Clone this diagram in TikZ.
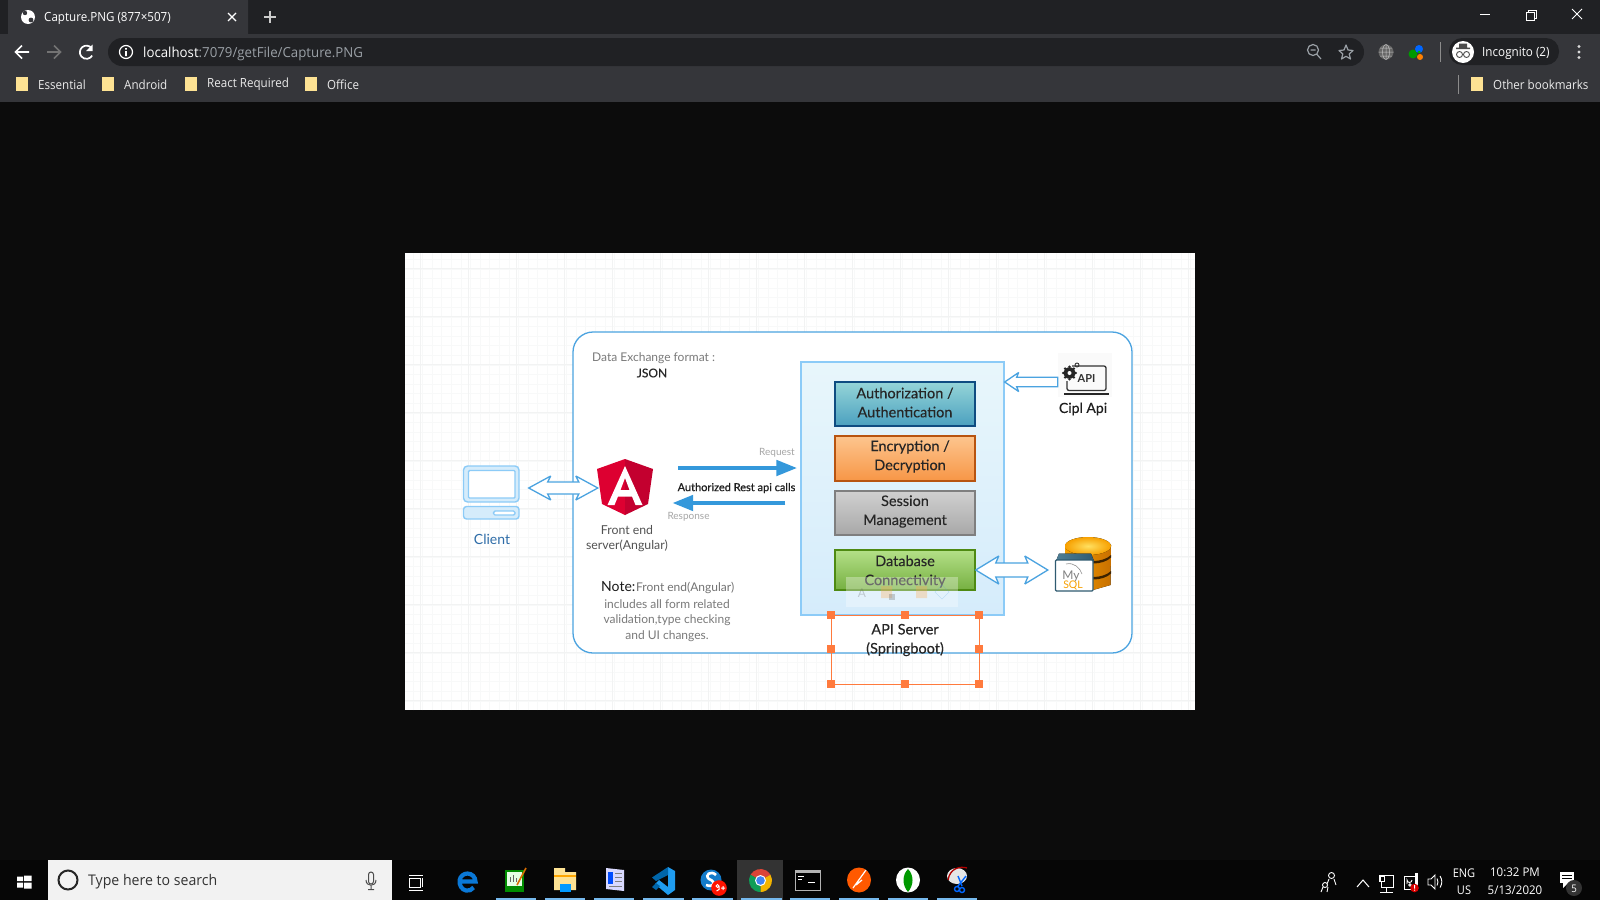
\documentclass[tikz,border=0pt]{standalone}
\usepackage{fontspec}
\setmainfont{Lato}
\newfontfamily\uifont[FakeStretch=0.92]{Open Sans}
\newfontfamily\uifontw[FakeStretch=0.96]{Open Sans}
\newfontfamily\boxfont[FakeBold=0.2]{Lato}
\usetikzlibrary{arrows.meta,calc}
\definecolor{pagebg}{HTML}{0C0C0C}
\definecolor{tabstrip}{HTML}{202124}
\definecolor{toolbar}{HTML}{35363A}
\definecolor{folder}{HTML}{FDE293}
\definecolor{uigray}{HTML}{9AA0A6}
\definecolor{frameblue}{HTML}{4BA3E0}
\definecolor{arrowblue}{HTML}{3498DB}
\definecolor{lightblue}{HTML}{8CCBF7}
\definecolor{handle}{HTML}{FF7A3D}
\definecolor{tasklin}{HTML}{76B9ED}
\definecolor{gridc}{HTML}{F8F9F9}
\definecolor{gridm}{HTML}{F2F3F3}
\tikzset{
  x=1pt,y=-1pt,
  txt/.style n args={2}{inner sep=0pt,font=\fontsize{#1}{#2}\selectfont,align=center},
  uitxt/.style={inner sep=0pt,font=\uifont\fontsize{#1}{#1}\selectfont,text=white},
  uitxtw/.style={inner sep=0pt,font=\uifontw\fontsize{#1}{#1}\selectfont,text=white},
  bmk/.style={uitxt=12.6,anchor=west,text=white!92!black},
  folderic/.style={fill=folder,draw=none},
  procbox/.style={draw,line width=1.5pt,minimum width=140pt,inner sep=0pt},
  boxtxt/.style={inner sep=0pt,align=center,font=\boxfont\fontsize{14.5}{19}\selectfont,text=black!85},
  greytxt/.style={txt={12}{16},text=black!55},
  bar/.style={draw=arrowblue,line width=4.6pt,-{Triangle[length=21pt,width=15pt]}},
  seledge/.style={draw=handle,line width=0.8pt},
  sel/.style={fill=handle,draw=none,minimum size=8pt,inner sep=0pt},
  tray/.style={draw=white,line width=0.9pt,fill=none},
  under/.style={fill=tasklin,draw=none},
}
% hollow double arrow between two points on one horizontal line: head len, half head, half shaft, indent
\newcommand{\hollowdouble}[6]{%
  \path let \p1=#1,\p2=#2 in
    [draw=frameblue,fill=white,line width=1.3pt,miter limit=3]
    (\x1,\y1) -- (\x1+#3pt,\y1+#4pt) -- (\x1+#3pt-#6pt,\y1+#5pt)
    -- (\x2-#3pt+#6pt,\y2+#5pt) -- (\x2-#3pt,\y2+#4pt) -- (\x2,\y2)
    -- (\x2-#3pt,\y2-#4pt) -- (\x2-#3pt+#6pt,\y2-#5pt)
    -- (\x1+#3pt-#6pt,\y1-#5pt) -- (\x1+#3pt,\y1-#4pt) -- cycle;}
\newcommand{\hollowsingle}[6]{%
  \path let \p1=#1,\p2=#2 in
    [draw=frameblue,fill=white,line width=1.3pt,miter limit=3]
    (\x2,\y2) -- (\x2+#3pt,\y2+#4pt) -- (\x2+#3pt-#6pt,\y2+#5pt)
    -- (\x1,\y1+#5pt) -- (\x1,\y1-#5pt)
    -- (\x2+#3pt-#6pt,\y2-#5pt) -- (\x2+#3pt,\y2-#4pt) -- cycle;}
\begin{document}
\begin{tikzpicture}
\useasboundingbox (0,0) rectangle (1600,900);
\fill[pagebg] (0,0) rectangle (1600,900);
%%% browser chrome
\fill[tabstrip] (0,0) rectangle (1600,34);
\fill[toolbar] (0,34) rectangle (1600,102);
\fill[toolbar,rounded corners=7pt] (8,-8) rectangle (248,42);
\fill[toolbar] (8,26) rectangle (248,34);
\fill[tabstrip,rounded corners=14pt] (108,38) rectangle (1364,66);
% tab
\fill[white] (28,17) circle (7);
\fill[toolbar] (25,13) circle (2.2) (31,20) circle (2.4);
\node[uitxt=12.6,anchor=west] (tabt) at (44,18) {Capture.PNG (877×507)};
\draw[white,line width=1.4pt] (228,13)--(236,21) (236,13)--(228,21);
\draw[white!80!black,line width=1.5pt] (270,11)--(270,23) (264,17)--(276,17);
% window controls
\draw[white,line width=0.9pt] (1480,14.5)--(1490,14.5);
\draw[white,line width=0.9pt] (1526,12) rectangle (1534,20) (1528,12)--(1528,10)--(1536,10)--(1536,18)--(1534,18);
\draw[white,line width=0.9pt] (1572,9)--(1582,19) (1582,9)--(1572,19);
% nav
\draw[white,line width=1.7pt] (15,52)--(29,52) (22,45.5)--(15.5,52)--(22,58.5);
\draw[black!55,line width=1.7pt] (47,52)--(61,52) (54,45.5)--(60.5,52)--(54,58.5);
\draw[white,line width=1.7pt] (91.5,48) arc (-40:-330:6.6);
\fill[white] (92.5,44.5)--(92.5,51)--(86,51)--cycle;
\draw[white,line width=1.2pt] (126,52) circle (6.5);
\fill[white] (125.2,48) rectangle (126.8,49.6) (125.2,51) rectangle (126.8,56);
\node[uitxtw=13.8,anchor=west] (url) at (143,53.5) {localhost\textcolor{uigray}{:7079/getFile/Capture.PNG}};
% toolbar right
\draw[uigray,line width=1.2pt] (1313,50) circle (5.5) (1317,54.5)--(1321,59) (1310.5,50)--(1315.5,50);
\draw[uigray,line width=1.2pt,line join=round] (1346,45) -- (1348,50) -- (1353,50.5) -- (1349.2,54) -- (1350.5,59) -- (1346,56.3) -- (1341.5,59) -- (1342.8,54) -- (1339,50.5) -- (1344,50) -- cycle;
\fill[black!60!white] (1386,52) circle (7.5);
\draw[black!25!white,line width=0.5pt] (1386,44.5)--(1386,59.5) (1378.5,52)--(1393.5,52) (1380,48)--(1392,48) (1380,56)--(1392,56) (1386,52) ellipse (3.5 and 7.5);
\fill[green!60!black] (1413,54) circle (4.5);
\fill[blue!60!cyan] (1419,49) circle (4);
\fill[orange] (1420,57) circle (3);
\fill[green!70!black] (1419,52) circle (1.5);
\draw[black!45!white,line width=0.7pt] (1440,42)--(1440,62);
\fill[tabstrip,rounded corners=13pt] (1449,38) rectangle (1559,65);
\fill[white] (1463,52) circle (11);
\fill[black!70] (1456,47.5) rectangle (1470,49) (1459,43.5) rectangle (1467,48);
\draw[black!70,line width=0.9pt] (1459.5,54.5) circle (3) (1466.5,54.5) circle (3);
\node[uitxt=12.7,anchor=west] (incog) at (1482,53) {Incognito (2)};
\fill[white!85!black] (1579,46.5) circle (1.6) (1579,52) circle (1.6) (1579,57.5) circle (1.6);
% bookmarks
\foreach \fx in {16,102,185,305,1471} {\fill[folderic] (\fx,77) rectangle +(11.5,14);}
\node[bmk] (b1) at (38,84.5) {Essential};
\node[bmk] (b2) at (124,84.5) {Android};
\node[bmk] (b3) at (207,84.5) {React Required};
\node[bmk] (b4) at (327,84.5) {Office};
\node[bmk] (b5) at (1493,84.5) {Other bookmarks};
\draw[black!45!white,line width=0.7pt] (1458,75)--(1458,94);
%%% screenshot image
\fill[white] (405,253) rectangle (1195,710);
\begin{scope}
\clip (405,253) rectangle (1195,710);
\draw[gridc,line width=0.5pt,step=9.6pt] (405,253) grid (1195,710);
\foreach \gx in {420,468,516,564,612,660,708,756,804,852,900,948,996,1044,1092,1140,1188} {\draw[gridm,line width=0.5pt] (\gx,253)--(\gx,710);}
\foreach \gy in {268,316,364,412,460,508,556,604,652,700} {\draw[gridm,line width=0.5pt] (405,\gy)--(1195,\gy);}
\end{scope}
% outer frame
\node[draw=frameblue,fill=white,line width=1.3pt,rounded corners=20pt,minimum width=559pt,minimum height=321pt,inner sep=0pt] (outer) at (852.5,492.5) {};
% API server box
\definecolor{apit}{HTML}{E8F6FB}\definecolor{apib}{HTML}{D5ECFB}
\node[draw=lightblue,line width=1.3pt,top color=apit,bottom color=apib,minimum width=203pt,minimum height=253pt,inner sep=0pt] (apibox) at (902.5,488.5) {};
% process boxes
\definecolor{at}{HTML}{95D5D8}\definecolor{ab}{HTML}{4BA0BF}\definecolor{ae}{HTML}{0F4C81}
\definecolor{et}{HTML}{FDC58E}\definecolor{eb}{HTML}{F79646}\definecolor{ee}{HTML}{B85410}
\definecolor{st}{HTML}{D0D0D0}\definecolor{sb}{HTML}{A8A8A8}\definecolor{se}{HTML}{7F7F7F}
\definecolor{dt}{HTML}{B4E088}\definecolor{db}{HTML}{76B041}\definecolor{de}{HTML}{4E8A12}
\node[procbox,draw=ae,top color=at,bottom color=ab,minimum height=44pt] (auth) at (905,404) {};
\node[procbox,draw=ee,top color=et,bottom color=eb,minimum height=45pt] (enc) at (905,458.5) {};
\node[procbox,draw=se,top color=st,bottom color=sb,minimum height=44pt] (sess) at (905,513) {};
\node[procbox,draw=de,top color=dt,bottom color=db,minimum height=40pt] (dbbox) at (905,570) {};
\node[boxtxt] (tauth) at (905,402.5) {Authorization /\\Authentication};
\node[boxtxt] (tenc) at (910,456.5) {Encryption /\\Decryption};
\node[boxtxt] (tsess) at (905,511.5) {Session\\Management};
\node[boxtxt] (tdb) at (905,571.5) {Database\\Connectivity};
% ghost toolbar
\fill[white,opacity=0.32] (846,577) rectangle (958,607);
\begin{scope}[opacity=0.3]
\node[inner sep=0pt,font=\fontsize{12}{12}\selectfont,text=black!60] (ghostA) at (862,593) {A};
\fill[orange!70] (881,586) rectangle (892,598) (916,586) rectangle (927,598);
\fill[black!60] (889,594) rectangle (895,600);
\draw[frameblue,rotate around={45:(942,592)}] (937,587) rectangle (947,597);
\end{scope}
% selection
\coordinate (sTL) at (831,615); \coordinate (sBR) at (979,684);
\draw[seledge] (sTL) rectangle (sBR);
\node[boxtxt] (tapi) at (905,640) {API Server\\(Springboot)};
\foreach \hx/\hn in {831/a,905/b,979/c} {\foreach \hy/\hm in {615/p,649/q,684/r} {
  \ifnum\pdfstrcmp{\hn\hm}{bq}=0\else\node[sel] (h\hn\hm) at (\hx,\hy) {};\fi}}
% left captions
\node[txt={12}{16},text=black!52,anchor=west] (dx) at (592,358) {Data Exchange format :};
\node[txt={12}{16},text=black!85] (json) at (652,373) {\addfontfeature{FakeBold=0.4}JSON};
\node[txt={10}{12},text=black!35] (req) at (777,452.5) {Request};
\node[txt={10}{12},text=black!35] (resp) at (688.5,517) {Response};
\node[txt={11}{12},text=black!88] (authz) at (736.5,488) {\addfontfeature{FakeBold=0.7}Authorized Rest api calls};
\node[txt={12.3}{15.5},text=black!68] (fe) at (627,538.5) {Front end\\server(Angular)};
\node[txt={14}{16},text=black!90,anchor=west] (note) at (601,587) {Note:};
\node[greytxt,anchor=west] (note0) at (636,588) {Front end(Angular)};
\node[greytxt,text=black!52] (note1) at (667,604) {includes all form related};
\node[greytxt,text=black!52] (note2) at (667,620.5) {validation,type checking};
\node[greytxt,text=black!52] (note3) at (667,636) {and UI changes.};
% client icon
\definecolor{clientc}{HTML}{2F6DA8}
\node[minimum width=56pt,minimum height=53pt,inner sep=0pt] (client) at (491,492.5) {};
\draw[lightblue,line width=1.4pt,fill=apib,rounded corners=4pt] (463.5,466) rectangle (519,502);
\draw[lightblue,line width=1.4pt,fill=white,rounded corners=1pt] (468.5,470.5) rectangle (515,498);
\draw[lightblue,line width=1.4pt,fill=apib,rounded corners=3pt] (463.5,506.5) rectangle (519,519);
\draw[lightblue,line width=1.4pt,fill=white,rounded corners=1.5pt] (493.5,511) rectangle (515,515);
\node[txt={14}{16},text=clientc] (clientl) at (492,539) {Client};
% angular
\definecolor{ngl}{HTML}{DD0031}\definecolor{ngr}{HTML}{C3002F}
\node[minimum width=56pt,minimum height=56pt,inner sep=0pt] (angular) at (625,487) {};
\fill[ngl] (625,459) -- (597,469) -- (602,504) -- (625,515) -- cycle;
\fill[ngr] (625,459) -- (653,469) -- (648,504) -- (625,515) -- cycle;
\fill[white,even odd rule] (625,466) -- (642.5,505) -- (635.5,505) -- (632,496.5) -- (618,496.5) -- (614.5,505) -- (607.5,505) -- cycle
  (625,478) -- (620.5,490) -- (629.5,490) -- cycle;
% cipl icon
\node[minimum width=54pt,minimum height=44pt,inner sep=0pt] (cipl) at (1085,375.5) {};
\fill[black!2] (1058,353) rectangle (1112,397);
\draw[black!80,line width=1.3pt,rounded corners=2pt] (1072,366) -- (1106,366) -- (1106,390.5) -- (1067,390.5) -- (1067,381);
\fill[black!85] (1064,392.5) rectangle (1108.5,395);
\foreach \ga in {0,45,...,315} {\fill[black!85] ($(1069.5,373)+(\ga:6.2)$) circle (1.4);}
\fill[black!85] (1069.5,373) circle (5.8); \fill[white] (1069.5,373) circle (2);
\draw[black!80,line width=0.9pt] (1077,365) circle (2);
\node[inner sep=0pt,font=\fontsize{11}{11}\selectfont\bfseries,text=black!80] (apit) at (1086.5,379) {API};
\node[txt={14}{16},text=black!88] (cipll) at (1083,409) {\addfontfeature{FakeBold=0.4}Cipl Api};
% mysql icon
\definecolor{dbo}{HTML}{F7A000}\definecolor{dbd}{HTML}{C87000}\definecolor{dby}{HTML}{FFE060}\definecolor{dbt}{HTML}{4F7F96}\definecolor{dbe}{HTML}{2F5A70}
\node[minimum width=63pt,minimum height=55pt,inner sep=0pt] (mysql) at (1079.5,564.5) {};
\fill[left color=dbo,right color=dbd] (1065,545) -- (1111,545) -- (1110.5,585) -- (1093,590) -- (1065,590) -- cycle;
\fill[black!70!dbd] (1093,561) .. controls (1100,561) and (1107,559) .. (1111,555) -- (1111,557.5) .. controls (1107,561.5) and (1100,563.5) .. (1093,563.5) -- cycle;
\fill[black!70!dbd] (1093,577) .. controls (1100,577) and (1107,575) .. (1111,571) -- (1111,573.5) .. controls (1107,577.5) and (1100,579.5) .. (1093,579.5) -- cycle;
\fill[inner color=dby,outer color=dbo] (1088,546) ellipse (23 and 9);
\fill[left color=dbt,right color=dbe] (1056,561) -- (1059,553.5) -- (1091,553.5) -- (1094,561) -- cycle;
\draw[dbe,fill=white,line width=1.3pt,rounded corners=1pt] (1055.5,560) rectangle (1093,591);
\draw[black!45,line width=0.6pt] (1066,564) .. controls (1074,562) and (1080,568) .. (1082,574);
\node[inner sep=0pt,font=\fontsize{12}{12}\selectfont,text=black!50] (my) at (1071,576) {My};
\node[inner sep=0pt,font=\fontsize{10.5}{10.5}\selectfont,text=dbo] (sql) at (1073,585.5) {SQL};
% connectors
\hollowdouble{($(client.east |- angular.west)+(9.5,1)$)}{($(angular.west)+(1,1)$)}{22}{12}{6}{3}
\hollowdouble{(dbbox.east)}{(mysql.west |- dbbox.east)}{23}{14}{7}{3}
\hollowsingle{($(cipl.west)+(0,6.5)$)}{($(apibox.east |- cipl.west)+(0,6.5)$)}{14}{9.5}{4.7}{2}
\draw[bar] ($(angular.east)+(25,-19)$) -- ($(apibox.west |- angular.east)+(-3,-19)$);
\draw[bar] ($(apibox.west |- angular.east)+(-15,16)$) -- ($(angular.east)+(19,16)$);
%%% taskbar
\fill[black,opacity=.45] (0,860) rectangle (1600,900);
\fill[white!95!black] (48,860) rectangle (392,900);
\fill[white] (17,876.5) rectangle (23,881) (24,875.5) rectangle (31.5,881) (17,882.5) rectangle (23,887.5) (24,882.5) rectangle (31.5,888.5);
\draw[black!85,line width=2pt] (68,880) circle (9.5);
\node[inner sep=0pt,anchor=west,font=\uifontw\fontsize{14.7}{15}\selectfont,text=black!80] (search) at (88,882) {Type here to search};
\draw[black!70,line width=1pt,rounded corners=2.5pt] (368.5,872) rectangle (373.5,884);
\draw[black!70,line width=1pt] (366,880) .. controls (366,887) and (376,887) .. (376,880) (371,886) -- (371,889) (368,889.5)--(374,889.5);
% task view
\draw[white,line width=0.9pt] (409,875)--(423,875) (409,890)--(423,890) (409,878) rectangle (420,887) (422,878)--(422,887);
% chrome tile
\fill[white!20!black] (737,860) rectangle (783,900);
% edge
\definecolor{edgec}{HTML}{0A78D7}
\begin{scope}[shift={(467.5,880.5)},y=1pt]
\draw[edgec,line width=4.2pt] (-7.5,-1) -- (8,-1) arc (0:170:8 and 8) arc (170:320:8 and 9);
\end{scope}
% notepad
\fill[green!55!black] (505,870) rectangle (524,892);
\fill[white!90!green] (507,872) rectangle (522,886);
\draw[black!60,line width=1pt] (510,877)--(510,882) (513,875)--(513,882) (516,878)--(516,882);
\draw[orange!85!black,line width=1.6pt] (517,885)--(526,868);
% folder
\fill[folder] (554,868) rectangle (565,876) (554,872) rectangle (576,890);
\fill[blue!40!cyan] (560,884) rectangle (571,892);
\fill[orange!70!yellow] (554,875) rectangle (576,877);
% doc
\fill[white!85!blue] (606,868) -- (624,870) -- (624,891) -- (606,889) -- cycle;
\fill[blue!70!cyan] (608,872) rectangle (613,884);
\draw[black!50,line width=0.8pt] (615,873)--(622,873) (615,877)--(622,877) (615,881)--(622,881) (609,886)--(622,886);
% vscode
\definecolor{vsa}{HTML}{1F9CF0}\definecolor{vsb}{HTML}{0065A9}
\fill[vsa] (668,867) -- (675,871) -- (675,890) -- (668,895) -- (655,884) -- (659,880) -- (668,887) -- cycle;
\fill[vsb] (668,867) -- (652,877.5) -- (656,881) -- (668,875) -- cycle;
\fill[vsb] (652,887) -- (656,890) -- (660,886) -- (656,883) -- cycle;
% skype
\fill[cyan!60!blue] (711,880) circle (10.5);
\draw[white,line width=2.6pt] (716,875) .. controls (711,870) and (704,875) .. (709,879) .. controls (717,882) and (714,888) .. (706,885);
\fill[red!85!orange] (719,888) circle (7.8);
\draw[white,line width=1pt] (717.5,886) circle (1.5) (719,886) -- (719,889.5) -- (716.5,891) (721,888)--(725,888) (723,886)--(723,890);
% chrome
\definecolor{chr}{HTML}{DB4437}\definecolor{chg}{HTML}{0F9D58}\definecolor{chy}{HTML}{F4B400}\definecolor{chb}{HTML}{4285F4}
\begin{scope}[shift={(760.5,880.5)},y=1pt]
\fill[chr] (0,0) -- (150:11.5) arc (150:30:11.5) -- cycle;
\fill[chg] (0,0) -- (150:11.5) arc (150:270:11.5) -- cycle;
\fill[chy] (0,0) -- (30:11.5) arc (30:-90:11.5) -- cycle;
\fill[white] (0,0) circle (5.5);
\fill[chb] (0,0) circle (4.3);
\end{scope}
% terminal
\draw[white!70!black,fill=black,line width=1pt] (795,870) rectangle (820,890);
\fill[white!70!black] (795,870) rectangle (820,873);
\draw[white,line width=0.7pt] (798,876)--(804,876) (798,879)--(802,879) (808,882)--(815,882);
% postman
\fill[orange!70!red] (859,880) ellipse (12 and 12.5);
\draw[white,line width=1.2pt] (853,888)--(866,870) (856,885)--(862,880);
% mongo
\fill[white] (908,880) ellipse (12 and 12.5);
\fill[green!60!black] (908,869) .. controls (914,875) and (914,885) .. (908,892) .. controls (902,885) and (902,875) .. (908,869) -- cycle;
% snip
\fill[white!90!black] (957,876) ellipse (10 and 8);
\draw[red!70!black,line width=1.3pt] (948,880) .. controls (950,868) and (960,866) .. (967,868);
\draw[blue!60!cyan,line width=1.4pt] (958,876)--(962,886) (966,876)--(958,886) (962,890) circle (2.5) (957,889) circle (2.5);
% tray
\draw[tray] (1325,885) circle (2.5) (1331.5,875.5) circle (3) (1321,892)--(1323,887) (1327,892)--(1328,887) (1329,879)--(1327,884) (1334,879)--(1336,885);
\draw[tray,line width=1pt] (1357,887)--(1363,880)--(1369,887);
\draw[tray] (1381,875) rectangle (1393,887) (1386,887)--(1386,892) (1380,892.5)--(1393,892.5);
\fill[white] (1379,875) rectangle (1385,882);
\fill[black] (1380.5,876.5) rectangle (1383.5,880.5);
\draw[tray] (1404,876) rectangle (1417,889);
\fill[white] (1415,873) -- (1418,873) -- (1418,890) -- (1415,890) -- cycle;
\draw[tray] (1407,884) -- (1407,880) arc (180:0:2.5) (1410,885) circle (1.2);
\fill[red!85!black] (1414.5,888) circle (4.3);
\fill[white] (1414,885) rectangle (1415,888.5) (1414,889.5) rectangle (1415,890.7);
\draw[tray] (1428,879) -- (1431,879) -- (1435,875) -- (1435,889) -- (1431,885) -- (1428,885) -- cycle (1437,878.5) arc (-30:30:7) (1440,876) arc (-35:35:10);
\node[uitxt=12] (eng) at (1464,873) {ENG};
\node[uitxt=12] (us) at (1464,890) {US};
\node[uitxtw=12] (clk) at (1515,872) {10:32 PM};
\node[uitxtw=12] (dat) at (1515,890) {5/13/2020};
\fill[white] (1560,872) rectangle (1574,883);
\fill[white] (1563,883) -- (1563,888) -- (1568,883) -- cycle;
\draw[black,line width=0.8pt] (1562,875)--(1572,875) (1562,878)--(1572,878);
\fill[white!20!black] (1574,888) circle (8);
\node[uitxt=10.5] (five) at (1574,888.5) {5};
\foreach \ua/\ub in {496/536,545/585,594/634,643/684,692/733,741/782,790/830,839/879,888/928,937/977} {\fill[under] (\ua,898) rectangle (\ub,900);}
\end{tikzpicture}
\end{document}
